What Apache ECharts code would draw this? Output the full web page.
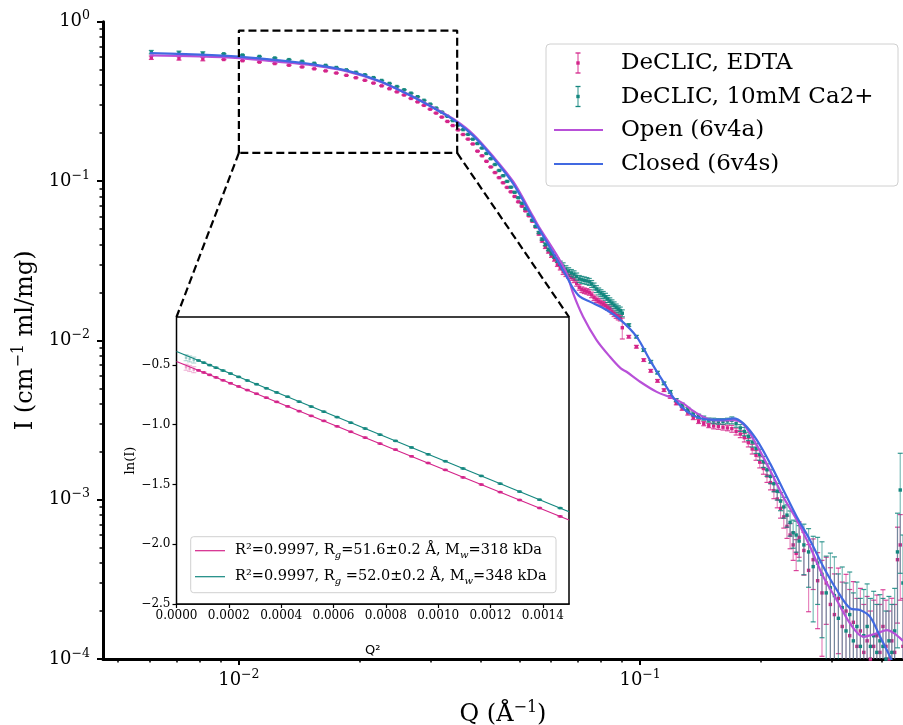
<!DOCTYPE html>
<html>
<head>
<meta charset="utf-8">
<script src="https://cdn.jsdelivr.net/npm/echarts@6/dist/echarts.min.js"></script>
<style>
  html, body { margin: 0; padding: 0; background: #fff; }
  #chart { width: 903px; height: 725px; }
</style>
</head>
<body>
<div id="chart"></div>
<script>
// scattering vector Q (1/A), shared by both samples
const q = [
  0.00605, 0.00709, 0.00813, 0.00917, 0.01021, 0.01125, 0.01229, 0.01333, 0.01437, 0.01541,
  0.01645, 0.01749, 0.01853, 0.01957, 0.02061, 0.02165, 0.02269, 0.02373, 0.02477, 0.02581,
  0.02685, 0.02789, 0.02893, 0.02997, 0.03101, 0.03205, 0.03309, 0.03413, 0.03517, 0.03621,
  0.03725, 0.03829, 0.03933, 0.04037, 0.04141, 0.04245, 0.04349, 0.04453, 0.04557, 0.04661,
  0.04765, 0.04869, 0.04973, 0.05077, 0.05181, 0.05285, 0.05389, 0.05493, 0.05597, 0.05701,
  0.05805, 0.05909, 0.06013, 0.06117, 0.06221, 0.06325, 0.06429, 0.06533, 0.06637, 0.06741,
  0.06845, 0.06949, 0.07053, 0.07157, 0.07261, 0.07365, 0.07469, 0.07573, 0.07677, 0.07781,
  0.07885, 0.07989, 0.08093, 0.08197, 0.08301, 0.08405, 0.08509, 0.08613, 0.08717, 0.08821,
  0.08925, 0.09029,
  0.0937, 0.0979, 0.1021, 0.1063, 0.1105, 0.1147, 0.1189, 0.1231,
  0.1273, 0.1315, 0.1357, 0.1399, 0.1441, 0.1483, 0.1525, 0.1567, 0.1609, 0.1651,
  0.1693, 0.1735, 0.1777, 0.1819, 0.1861, 0.1903, 0.1945, 0.1987, 0.2029, 0.2071,
  0.2113, 0.2155, 0.2197, 0.2239, 0.2281, 0.2323, 0.2365, 0.2407, 0.2449, 0.2491,
  0.2560, 0.2630, 0.2700, 0.2770, 0.2840, 0.2910, 0.2980, 0.3050, 0.3120, 0.3190,
  0.3260, 0.3330, 0.3400, 0.3470, 0.3540, 0.3610, 0.3680, 0.3750, 0.3820, 0.3890,
  0.3960, 0.4030, 0.4100, 0.4170, 0.4240, 0.4310, 0.4380, 0.4450, 0.4520
];

// DeCLIC, EDTA
const iEdta = [
  0.5945, 0.5886, 0.5827, 0.5790, 0.5690, 0.5577, 0.5461, 0.5331, 0.5200, 0.5062,
  0.4912, 0.4762, 0.4607, 0.4449, 0.4287, 0.4118, 0.3957, 0.3795, 0.3628, 0.3465,
  0.3299, 0.3138, 0.2985, 0.2823, 0.2669, 0.2519, 0.2366, 0.2229, 0.2093, 0.1959,
  0.1832, 0.1708, 0.1540, 0.1440, 0.1330, 0.1225, 0.1130, 0.1050, 0.0975, 0.0912,
  0.0855, 0.0800, 0.0740, 0.0695, 0.0650, 0.0605, 0.0560, 0.0515, 0.0465, 0.0420,
  0.0385, 0.0360, 0.0340, 0.0322, 0.0300, 0.0285, 0.0270, 0.0262, 0.0255, 0.0248,
  0.0240, 0.0228, 0.0215, 0.0208, 0.0205, 0.0203, 0.0200, 0.0193, 0.0185, 0.0180,
  0.0176, 0.0172, 0.0169, 0.0166, 0.0161, 0.0158, 0.0152, 0.0147, 0.0143, 0.0140,
  0.0138, 0.0120,
  0.01054, 0.00912, 0.00752, 0.00644, 0.00557, 0.00487, 0.00442, 0.00402,
  0.00375, 0.00350, 0.00328, 0.00310, 0.00300, 0.00292, 0.00290, 0.00288, 0.00285, 0.00282,
  0.00279, 0.00268, 0.00258, 0.00245, 0.00228, 0.00208, 0.00190, 0.00172, 0.00157, 0.00141,
  0.00128, 0.00114, 0.00101, 0.00088, 0.00078, 0.00068, 0.00060, 0.00052, 0.00046, 0.00058,
  0.00048, 0.00036, 0.00042, 0.00031, 0.00026, 0.00030, 0.00022, 0.00019, 0.00024, 0.00016,
  0.00020, 0.00014, 0.00017, 0.00012, 0.00015, 0.00011, 0.00013, 0.00010, 0.00012, 0.00014,
  0.00011, 0.00016, 0.00012, 0.00010, 0.00013, 0.00011, 0.00042, 0.00052, 0.00012
];

// DeCLIC, 10mM Ca2+
const iCa = [
  0.6440, 0.6376, 0.6313, 0.6288, 0.6175, 0.6053, 0.5921, 0.5781, 0.5638, 0.5483,
  0.5321, 0.5158, 0.4986, 0.4814, 0.4645, 0.4457, 0.4278, 0.4098, 0.3918, 0.3738,
  0.3560, 0.3382, 0.3211, 0.3039, 0.2871, 0.2709, 0.2549, 0.2395, 0.2245, 0.2101,
  0.1963, 0.1831, 0.1720, 0.1610, 0.1490, 0.1380, 0.1270, 0.1165, 0.1080, 0.0995,
  0.0915, 0.0850, 0.0785, 0.0725, 0.0670, 0.0618, 0.0568, 0.0520, 0.0475, 0.0432,
  0.0400, 0.0372, 0.0352, 0.0336, 0.0318, 0.0305, 0.0292, 0.0280, 0.0272, 0.0265,
  0.0260, 0.0252, 0.0243, 0.0240, 0.0238, 0.0236, 0.0233, 0.0226, 0.0218, 0.0210,
  0.0203, 0.0198, 0.0193, 0.0188, 0.0182, 0.0176, 0.0171, 0.0166, 0.0161, 0.0157,
  0.0154, 0.0148,
  0.01247, 0.01054, 0.00869, 0.00734, 0.00627, 0.00537, 0.00475, 0.00422,
  0.00392, 0.00368, 0.00345, 0.00334, 0.00325, 0.00316, 0.00312, 0.00310, 0.00310, 0.00312,
  0.00315, 0.00300, 0.00282, 0.00268, 0.00250, 0.00230, 0.00210, 0.00192, 0.00173, 0.00154,
  0.00140, 0.00126, 0.00113, 0.00098, 0.00090, 0.00080, 0.00072, 0.00062, 0.00060, 0.00055,
  0.00052, 0.00047, 0.00038, 0.00040, 0.00034, 0.00026, 0.00028, 0.00025, 0.00018, 0.00021,
  0.00015, 0.00019, 0.00013, 0.00016, 0.00012, 0.00014, 0.00016, 0.00012, 0.00014, 0.00011,
  0.00013, 0.00012, 0.00010, 0.00013, 0.00011, 0.00015, 0.00047, 0.00115, 0.00030
];

// error bars, percent of intensity
const errEdta = [
  2.5, 2.5, 2.5, 0.4, 0.4, 0.4, 0.4, 0.4, 0.4, 0.4,
  0.4, 0.4, 0.4, 0.4, 0.4, 0.4, 0.4, 0.4, 0.4, 0.4,
  0.4, 0.4, 0.4, 0.4, 0.4, 0.4, 0.4, 0.4, 0.4, 0.4,
  0.4, 0.4, 0.5, 0.5, 0.5, 0.5, 0.5, 0.6, 0.6, 0.6,
  0.7, 0.7, 0.8, 0.8, 0.9, 0.9, 1, 1, 1.5, 1.5,
  2, 2, 2.5, 2.5, 3, 3, 4, 4, 4, 4,
  4, 4, 4, 4, 4, 4, 4, 4, 4, 4,
  4, 4, 4, 4, 4, 4, 4, 4, 4, 4,
  4, 15,
  2, 2, 2, 2, 2, 2, 2, 2,
  3, 3, 3, 3, 3, 3, 4, 4, 4, 4,
  5, 5, 5, 6, 6, 7, 7, 8, 8, 9,
  10, 11, 12, 13, 15, 16, 18, 20, 22, 25,
  30, 45, 35, 50, 60, 45, 70, 80, 55, 90,
  70, 95, 80, 100, 85, 100, 90, 100, 95, 80,
  100, 70, 95, 100, 85, 100, 60, 55, 100
];
const errCa = [
  2.5, 2.5, 2.5, 0.4, 0.4, 0.4, 0.4, 0.4, 0.4, 0.4,
  0.4, 0.4, 0.4, 0.4, 0.4, 0.4, 0.4, 0.4, 0.4, 0.4,
  0.4, 0.4, 0.4, 0.4, 0.4, 0.4, 0.4, 0.4, 0.4, 0.4,
  0.4, 0.4, 0.5, 0.5, 0.5, 0.5, 0.5, 0.6, 0.6, 0.6,
  0.7, 0.7, 0.8, 0.8, 0.9, 0.9, 1, 1, 1.5, 1.5,
  2, 2, 2.5, 2.5, 3, 3, 5, 5, 5, 5,
  5, 5, 5, 5, 5, 5, 5, 5, 5, 5,
  5, 5, 5, 5, 5, 5, 5, 5, 5, 5,
  5, 5,
  2, 2, 2, 2, 2, 2, 2, 2,
  3, 3, 3, 3, 3, 3, 4, 4, 4, 4,
  5, 5, 5, 6, 6, 7, 7, 8, 8, 9,
  10, 11, 12, 13, 15, 16, 18, 20, 22, 25,
  35, 40, 55, 45, 60, 70, 65, 75, 90, 80,
  100, 85, 100, 90, 100, 95, 85, 100, 90, 100,
  95, 100, 100, 90, 100, 85, 75, 70, 100
];
const nExcluded = 3; // first points left out of the Guinier fit (faded in inset)

// model curves
const qOpen = [0.006, 0.008, 0.010, 0.0126, 0.0153, 0.0185, 0.0224, 0.0272, 0.0311, 0.0347,
  0.0384, 0.0430, 0.0483, 0.0541, 0.05625, 0.0619, 0.0656, 0.0681, 0.0721, 0.0779,
  0.0841, 0.0895, 0.0925, 0.1000, 0.1100, 0.1210, 0.1281, 0.1357, 0.1493, 0.1608,
  0.1708, 0.1808, 0.1953, 0.2108, 0.2275, 0.2457, 0.2652, 0.2862, 0.3092, 0.3337,
  0.3600, 0.3890, 0.4120, 0.4300, 0.4520];
const iOpen = [0.615, 0.605, 0.590, 0.560, 0.532, 0.490, 0.422, 0.338, 0.282, 0.240,
  0.196, 0.143, 0.099, 0.060, 0.0505, 0.0345, 0.0263, 0.0197, 0.01406, 0.01004,
  0.00789, 0.00667, 0.00635, 0.00550, 0.00475, 0.00432, 0.00402, 0.00360, 0.00318, 0.00314,
  0.00316, 0.00298, 0.00220, 0.00153, 0.00104, 0.000745, 0.000506, 0.000328, 0.000234, 0.000167,
  0.000138, 0.000145, 0.000152, 0.000145, 0.000130];
const qClosed = [0.006, 0.008, 0.010, 0.0126, 0.0153, 0.0185, 0.0224, 0.0272, 0.0311, 0.0347,
  0.0384, 0.0430, 0.0483, 0.0541, 0.05625, 0.0600, 0.0656, 0.0681, 0.0708, 0.0749,
  0.0825, 0.0895, 0.0980, 0.1058, 0.1142, 0.1233, 0.1357, 0.1493, 0.1608, 0.1708,
  0.1808, 0.1953, 0.2108, 0.2275, 0.2457, 0.2652, 0.2862, 0.3092, 0.3337, 0.3534,
  0.3744, 0.3965, 0.4200, 0.4500];
const iClosed = [0.636, 0.622, 0.604, 0.572, 0.540, 0.495, 0.425, 0.337, 0.280, 0.237,
  0.192, 0.140, 0.096, 0.058, 0.049, 0.0372, 0.0251, 0.0212, 0.0188, 0.0175,
  0.0155, 0.0134, 0.01054, 0.00752, 0.00550, 0.00412, 0.00338, 0.00318, 0.00318, 0.00324,
  0.00301, 0.00237, 0.00169, 0.00115, 0.000781, 0.000557, 0.000379, 0.000271, 0.000208, 0.000203,
  0.000184, 0.000138, 0.000103, 0.00007];

// Guinier fits: [Q^2, ln(I)] at both ends of the inset range
const fitEdta = [[0, -0.472], [0.0015, -1.797]];
const fitCa = [[0, -0.389], [0.0015, -1.728]];

// zoom rectangle in the main plot (Q, I)
const zoomBox = [[0.01, 0.15], [0.01, 0.88], [0.035, 0.88], [0.035, 0.15], [0.01, 0.15]];

const xMajor = [0.01, 0.1];
const xMinor = [0.005, 0.006, 0.007, 0.008, 0.009, 0.02, 0.03, 0.04, 0.05, 0.06, 0.07, 0.08, 0.09, 0.2, 0.3, 0.4];
const yMajor = [1e-4, 1e-3, 1e-2, 1e-1, 1];
const yMinor = [];
[1e-4, 1e-3, 1e-2, 1e-1].forEach(d => { for (let k = 2; k <= 9; k++) yMinor.push(d * k); });
const insetXTicks = [0, 0.0002, 0.0004, 0.0006, 0.0008, 0.0010, 0.0012, 0.0014];
const insetYTicks = [-2.5, -2.0, -1.5, -1.0, -0.5];

const edtaColor = '#d4248a';
const caColor = '#14877f';
const openColor = '#b850d8';
const closedColor = '#4169e1';
const serif = 'DejaVu Serif';

const mainEdta = q.map((x, i) => [x, iEdta[i], Math.max(iEdta[i] * (1 - errEdta[i] / 100), 1e-7), iEdta[i] * (1 + errEdta[i] / 100), 0]);
const mainCa = q.map((x, i) => [x, iCa[i], Math.max(iCa[i] * (1 - errCa[i] / 100), 1e-7), iCa[i] * (1 + errCa[i] / 100), 0]);
const insetEdta = [], insetCa = [];
q.forEach((x, i) => {
  if (x * x > 0.0015) return;
  const f = i < nExcluded ? 1 : 0;
  insetEdta.push([x * x, Math.log(iEdta[i]), Math.log(mainEdta[i][2]), Math.log(mainEdta[i][3]), f]);
  insetCa.push([x * x, Math.log(iCa[i]), Math.log(mainCa[i][2]), Math.log(mainCa[i][3]), f]);
});

function errorBars(color, size) {
  return function (params, api) {
    const cs = params.coordSys;
    const x = api.value(0);
    const p = api.coord([x, api.value(1)]);
    const pLo = api.coord([x, api.value(2)]);
    const pHi = api.coord([x, api.value(3)]);
    const faded = api.value(4) === 1;
    const top = cs.y, bottom = cs.y + cs.height;
    const yt = Math.max(pHi[1], top);
    const yb = Math.min(isFinite(pLo[1]) ? pLo[1] : bottom, bottom);
    const alpha = faded ? 0.35 : 1;
    const kids = [];
    if (yb - yt > 0.5) {
      kids.push({ type: 'line', shape: { x1: p[0], y1: yt, x2: p[0], y2: yb },
        style: { stroke: color, lineWidth: 1.2, opacity: 0.55 * alpha } });
      if (pHi[1] >= top) kids.push({ type: 'line', shape: { x1: p[0] - 2.5, y1: pHi[1], x2: p[0] + 2.5, y2: pHi[1] },
        style: { stroke: color, lineWidth: 1.2, opacity: 0.85 * alpha } });
      if (pLo[1] <= bottom) kids.push({ type: 'line', shape: { x1: p[0] - 2.5, y1: pLo[1], x2: p[0] + 2.5, y2: pLo[1] },
        style: { stroke: color, lineWidth: 1.2, opacity: 0.85 * alpha } });
    }
    if (p[1] >= top && p[1] <= bottom) {
      kids.push({ type: 'rect', shape: { x: p[0] - size / 2, y: p[1] - size / 2, width: size, height: size },
        style: { fill: color, opacity: alpha } });
    }
    return { type: 'group', children: kids };
  };
}

function powLabel(v) {
  const e = Math.round(Math.log10(v));
  return '{b|10}{s|' + (e < 0 ? '\u2212' + (-e) : e) + '}';
}
const powRich = {
  b: { fontFamily: serif, fontSize: 18, lineHeight: 24, color: '#000' },
  s: { fontFamily: serif, fontSize: 12.5, lineHeight: 12, verticalAlign: 'top', color: '#000' }
};
const titleRich = {
  a: { fontFamily: serif, fontSize: 24, lineHeight: 30, color: '#000' },
  s: { fontFamily: serif, fontSize: 16, lineHeight: 16, verticalAlign: 'top', color: '#000' }
};
const legendFont = { fontFamily: serif, fontSize: 23, fill: '#000', verticalAlign: 'middle' };
const insetRich = {
  t: { fontFamily: serif, fontSize: 14.5, lineHeight: 19, fill: '#000' },
  g: { fontFamily: serif, fontSize: 10, fontStyle: 'italic', lineHeight: 10, verticalAlign: 'bottom', fill: '#000' }
};

function errIcon(color, y) {
  return [
    { type: 'line', shape: { x1: 578, y1: y - 10, x2: 578, y2: y + 10 }, style: { stroke: color, lineWidth: 1.3, opacity: 0.7 } },
    { type: 'line', shape: { x1: 575.5, y1: y - 10, x2: 580.5, y2: y - 10 }, style: { stroke: color, lineWidth: 1.3 } },
    { type: 'line', shape: { x1: 575.5, y1: y + 10, x2: 580.5, y2: y + 10 }, style: { stroke: color, lineWidth: 1.3 } },
    { type: 'rect', shape: { x: 576.3, y: y - 1.7, width: 3.4, height: 3.4 }, style: { fill: color } }
  ];
}
// every legend element gets its own z so it sits above the inset grid
const onTop = els => els.map((e, k) => Object.assign({ z: k === 0 ? 30 : 31 }, e));

const mainLegend = onTop([
  { type: 'rect', shape: { x: 546, y: 44, width: 352, height: 142, r: 4 },
    style: { fill: '#fff', stroke: '#d0d0d0', lineWidth: 1 } },
  ...errIcon(edtaColor, 63),
  ...errIcon(caColor, 96.5),
  { type: 'line', shape: { x1: 554, y1: 130, x2: 603, y2: 130 }, style: { stroke: openColor, lineWidth: 2.2 } },
  { type: 'line', shape: { x1: 554, y1: 164, x2: 603, y2: 164 }, style: { stroke: closedColor, lineWidth: 2.2 } },
  { type: 'text', x: 621, y: 63, style: Object.assign({ text: 'DeCLIC, EDTA' }, legendFont) },
  { type: 'text', x: 621, y: 97, style: Object.assign({ text: 'DeCLIC, 10mM Ca2+' }, legendFont) },
  { type: 'text', x: 621, y: 130, style: Object.assign({ text: 'Open (6v4a)' }, legendFont) },
  { type: 'text', x: 621, y: 164, style: Object.assign({ text: 'Closed (6v4s)' }, legendFont) }
]);

const insetLegend = onTop([
  { type: 'rect', shape: { x: 190.7, y: 536.7, width: 365.3, height: 56, r: 3 },
    style: { fill: '#fff', stroke: '#d0d0d0', lineWidth: 1 } },
  { type: 'line', shape: { x1: 195, y1: 550.7, x2: 225, y2: 550.7 }, style: { stroke: edtaColor, lineWidth: 1.2 } },
  { type: 'line', shape: { x1: 195, y1: 576.7, x2: 225, y2: 576.7 }, style: { stroke: caColor, lineWidth: 1.2 } },
  { type: 'text', x: 235, y: 550.7, style: { verticalAlign: 'middle', rich: insetRich,
    text: '{t|R\u00b2=0.9997, R}{g|g}{t|=51.6\u00b10.2 \u00c5, M}{g|w}{t|=318 kDa}' } },
  { type: 'text', x: 235, y: 576.7, style: { verticalAlign: 'middle', rich: insetRich,
    text: '{t|R\u00b2=0.9997, R}{g|g}{t| =52.0\u00b10.2 \u00c5, M}{g|w}{t|=348 kDa}' } }
]);

const chart = echarts.init(document.getElementById('chart'));

const option = {
  animation: false,
  backgroundColor: '#fff',
  grid: [
    { left: 103, top: 21.7, right: 0, bottom: 66, outerBoundsMode: 'none' },
    { left: 176.5, top: 317, width: 392.5, height: 287, show: true, backgroundColor: '#fff',
      borderColor: '#000', borderWidth: 1.5, z: 5, outerBoundsMode: 'none' }
  ],
  xAxis: [
    { gridIndex: 0, type: 'log', min: 0.004585, max: 0.4521,
      name: '{a|Q (\u00c5}{s|\u22121}{a|)}', nameLocation: 'middle', nameGap: 41,
      nameTextStyle: { rich: titleRich },
      axisLine: { show: true, lineStyle: { color: '#000', width: 3 } },
      axisTick: { customValues: xMajor, length: 6, lineStyle: { color: '#000', width: 2 } },
      axisLabel: { customValues: xMajor, margin: 9, formatter: powLabel, rich: powRich },
      splitLine: { show: false } },
    { gridIndex: 0, type: 'log', min: 0.004585, max: 0.4521, position: 'bottom',
      axisLine: { show: false },
      axisTick: { customValues: xMinor, length: 3.5, lineStyle: { color: '#000', width: 1.5 } },
      axisLabel: { show: false }, splitLine: { show: false } },
    { gridIndex: 1, type: 'value', min: 0, max: 0.0015,
      name: 'Q\u00b2', nameLocation: 'middle', nameGap: 40,
      nameTextStyle: { fontFamily: 'DejaVu Sans', fontSize: 13, color: '#000' },
      axisLine: { show: true, lineStyle: { color: '#000', width: 1.5 } },
      axisTick: { customValues: insetXTicks, length: 4, lineStyle: { color: '#000', width: 1.2 } },
      axisLabel: { customValues: insetXTicks, margin: 6, fontFamily: serif, fontSize: 12, color: '#000',
        formatter: v => v.toFixed(4) },
      splitLine: { show: false } }
  ],
  yAxis: [
    { gridIndex: 0, type: 'log', min: 1e-4, max: 1,
      name: '{a|I (cm}{s|\u22121}{a| ml/mg)}', nameLocation: 'middle', nameGap: 62, nameRotate: 90,
      nameTextStyle: { rich: titleRich },
      axisLine: { show: true, lineStyle: { color: '#000', width: 3 } },
      axisTick: { customValues: yMajor, length: 6, lineStyle: { color: '#000', width: 2 } },
      axisLabel: { customValues: yMajor, margin: 13, formatter: powLabel, rich: powRich },
      splitLine: { show: false } },
    { gridIndex: 0, type: 'log', min: 1e-4, max: 1, position: 'left',
      axisLine: { show: false },
      axisTick: { customValues: yMinor, length: 3.5, lineStyle: { color: '#000', width: 1.5 } },
      axisLabel: { show: false }, splitLine: { show: false } },
    { gridIndex: 1, type: 'value', min: -2.5, max: -0.1,
      name: 'ln(I)', nameLocation: 'middle', nameGap: 38, nameRotate: 90,
      nameTextStyle: { fontFamily: serif, fontSize: 13, color: '#000' },
      axisLine: { show: true, lineStyle: { color: '#000', width: 1.5 } },
      axisTick: { customValues: insetYTicks, length: 4, lineStyle: { color: '#000', width: 1.2 } },
      axisLabel: { customValues: insetYTicks, margin: 6, fontFamily: serif, fontSize: 12, color: '#000',
        formatter: v => v.toFixed(1).replace('-', '\u2212') },
      splitLine: { show: false } }
  ],
  series: [
    { name: 'DeCLIC, EDTA', type: 'custom', xAxisIndex: 0, yAxisIndex: 0, data: mainEdta,
      encode: { x: 0, y: 1 }, renderItem: errorBars(edtaColor, 3.4), z: 2 },
    { name: 'DeCLIC, 10mM Ca2+', type: 'custom', xAxisIndex: 0, yAxisIndex: 0, data: mainCa,
      encode: { x: 0, y: 1 }, renderItem: errorBars(caColor, 3.4), z: 2 },
    { name: 'Open (6v4a)', type: 'line', xAxisIndex: 0, yAxisIndex: 0, smooth: 0.3, showSymbol: false,
      data: qOpen.map((x, i) => [x, iOpen[i]]), lineStyle: { color: openColor, width: 2.2 }, z: 3 },
    { name: 'Closed (6v4s)', type: 'line', xAxisIndex: 0, yAxisIndex: 0, smooth: 0.3, showSymbol: false,
      data: qClosed.map((x, i) => [x, iClosed[i]]), lineStyle: { color: closedColor, width: 2.2 }, z: 3 },
    { type: 'line', xAxisIndex: 0, yAxisIndex: 0, data: zoomBox, showSymbol: false, silent: true,
      lineStyle: { color: '#000', width: 2.2, type: [8, 4] }, z: 4 },
    { type: 'custom', xAxisIndex: 2, yAxisIndex: 2, data: insetEdta, encode: { x: 0, y: 1 },
      renderItem: errorBars(edtaColor, 2.6), z: 6 },
    { type: 'custom', xAxisIndex: 2, yAxisIndex: 2, data: insetCa, encode: { x: 0, y: 1 },
      renderItem: errorBars(caColor, 2.6), z: 6 },
    { type: 'line', xAxisIndex: 2, yAxisIndex: 2, data: fitEdta, showSymbol: false, silent: true,
      lineStyle: { color: edtaColor, width: 1.2 }, z: 6 },
    { type: 'line', xAxisIndex: 2, yAxisIndex: 2, data: fitCa, showSymbol: false, silent: true,
      lineStyle: { color: caColor, width: 1.2 }, z: 6 }
  ],
  graphic: mainLegend.concat(insetLegend)
};

chart.setOption(option);

// dashed connectors from the zoom box to the inset corners
const boxBL = chart.convertToPixel({ gridIndex: 0 }, [zoomBox[0][0], zoomBox[0][1]]);
const boxBR = chart.convertToPixel({ gridIndex: 0 }, [zoomBox[3][0], zoomBox[3][1]]);
const insTL = chart.convertToPixel({ gridIndex: 1 }, [0, -0.1]);
const insTR = chart.convertToPixel({ gridIndex: 1 }, [0.0015, -0.1]);
chart.setOption({
  graphic: [
    { id: 'connL', type: 'line', z: 4, shape: { x1: boxBL[0], y1: boxBL[1], x2: insTL[0], y2: insTL[1] },
      style: { stroke: '#000', lineWidth: 2.2, lineDash: [8, 4] } },
    { id: 'connR', type: 'line', z: 4, shape: { x1: boxBR[0], y1: boxBR[1], x2: insTR[0], y2: insTR[1] },
      style: { stroke: '#000', lineWidth: 2.2, lineDash: [8, 4] } }
  ]
});
</script>
</body>
</html>
